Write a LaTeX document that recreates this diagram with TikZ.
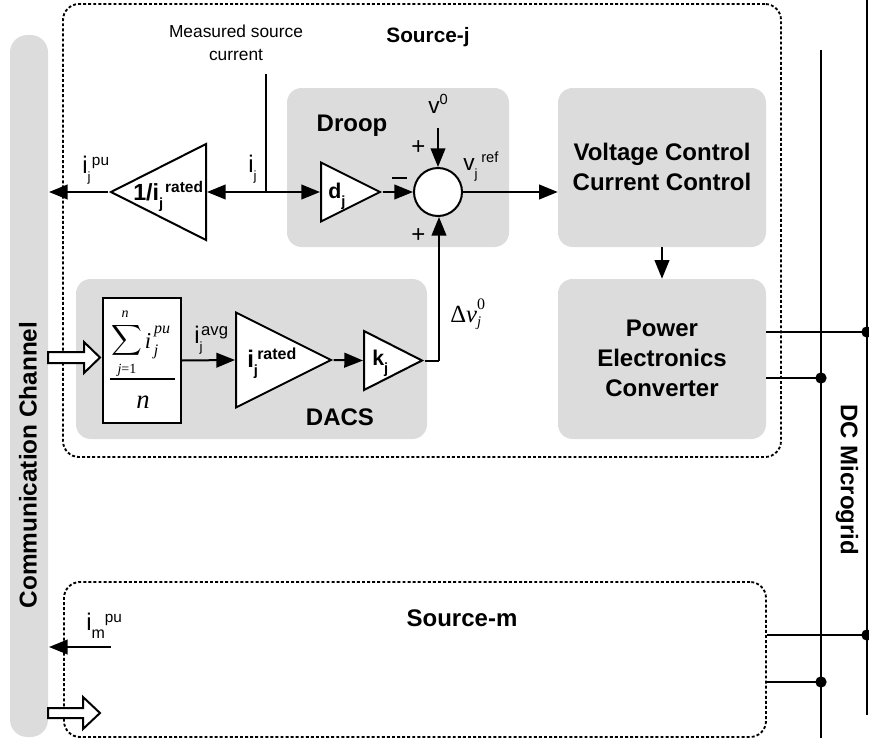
\documentclass[tikz,border=0pt]{standalone}
\usepackage{fontspec}
\setmainfont{Liberation Sans}
\newfontfamily\tms{Liberation Serif}
\usetikzlibrary{arrows.meta,shapes.geometric}
\def\px{0.75pt}
\newcommand\fs[1]{\fontsize{#1}{#1}\selectfont}
% base, sub, sup, sub size, sup size, gap between base and sup
\newcommand\iss[6]{#1\rlap{\raisebox{-6.5pt}{\fs{#4}#2}}\hspace{#6}\raisebox{6pt}{\fs{#5}#3}}
\tikzset{
  x=\px,y=-\px,
  wire/.style={line width=1.5pt},
  arr/.style={line width=1.5pt,-{Triangle[length=14pt,width=11pt]}},
  darr/.style={line width=1.5pt,{Triangle[length=14pt,width=11pt]}-{Triangle[length=14pt,width=11pt]}},
  grey/.style={rectangle,rounded corners=11pt,fill=boxgrey,draw=none,inner sep=0pt},
  dashbox/.style={rectangle,rounded corners=12pt,draw=black,line width=1.4pt,dash pattern=on 2.2pt off 1.6pt,inner sep=0pt},
  tri/.style={isosceles triangle,isosceles triangle stretches,draw=black,fill=white,line width=1.5pt,inner sep=0pt,line join=miter},
  hollow/.style={draw=black,fill=white,line width=1.5pt,line join=miter},
  txt/.style={inner sep=0pt,font=\fs{13}},
  lab/.style={inner sep=0pt,anchor=base west,font=\fs{18}},
  blab/.style={inner sep=0pt,anchor=base west,font=\fs{18}\bfseries},
  btxt/.style={inner sep=0pt,font=\fs{18}\bfseries,align=center},
  dot/.style={circle,fill=black,inner sep=0pt,minimum size=8.5pt},
}
\definecolor{boxgrey}{HTML}{DCDCDC}
\begin{document}
\begin{tikzpicture}
\useasboundingbox (0,0) rectangle (869,743);
% backgrounds
\node[grey,rounded corners=13pt,minimum width=38*\px,minimum height=702*\px] (comm) at (29,386) {};
\node[dashbox,minimum width=718*\px,minimum height=453*\px] (srcj) at (422,230.5) {};
\node[dashbox,minimum width=702*\px,minimum height=155*\px] (srcm) at (415,659.5) {};
\node[grey,minimum width=222*\px,minimum height=159*\px] (droop) at (398,167.5) {};
\node[grey,minimum width=208*\px,minimum height=159*\px] (vc) at (662,167.5) {};
\node[grey,minimum width=208*\px,minimum height=160*\px] (pe) at (662,359) {};
\node[grey,minimum width=351*\px,minimum height=160*\px] (dacs) at (251.5,359) {};
% blocks
\node[tri,shape border rotate=180,anchor=lower side,minimum width=96*\px,minimum height=95*\px] (t1) at (207,192) {};
\node[tri,anchor=lower side,minimum width=59*\px,minimum height=59*\px] (td) at (320,192) {};
\node[tri,anchor=lower side,minimum width=95*\px,minimum height=95*\px] (tr) at (235,360) {};
\node[tri,anchor=lower side,minimum width=59*\px,minimum height=58*\px] (tk) at (363,360.5) {};
\node[circle,draw=black,fill=white,line width=1.5pt,minimum size=48*\px,inner sep=0pt] (sum) at (438,192) {};
\node[rectangle,draw=black,fill=white,line width=1.5pt,minimum width=78*\px,minimum height=125*\px,inner sep=0pt] (avg) at (142,360.5) {};
% free ends
\coordinate (ileft) at (49,192);
\coordinate (jn) at (266,191.5);
\coordinate (meas) at (266,74);
\coordinate (v0top) at (438,128);
\coordinate (kcorner) at (439,360.5);
\coordinate (busa1) at (867,332);
\coordinate (busb1) at (821,378);
\coordinate (busa2) at (867,635);
\coordinate (busb2) at (821,682);
\coordinate (mleft) at (49,647);
\coordinate (mright) at (111,647);
\coordinate (busbT) at (821,50);
\coordinate (busbB) at (821,738);
\coordinate (busaT) at (867,0);
\coordinate (busaB) at (867,715);
% connectors
\draw[arr] (t1.apex) -- (ileft);
\draw[darr] (t1.lower side) -- (td.lower side);
\draw[wire] (meas) -- (jn);
\draw[arr] (td.apex) -- (sum.west);
\draw[arr] (v0top) -- (sum.north);
\draw[arr] (sum.east) -- (vc.west |- sum.east);
\draw[arr] (vc.south) -- (pe.north);
\draw[arr] (avg.east) -- (tr.lower side);
\draw[arr] (tr.apex) -- (tk.lower side);
\draw[wire] (tk.apex) -- (kcorner);
\draw[arr] (kcorner) -- (kcorner |- sum.south);
\draw[arr] (mright) -- (mleft);
\draw[wire] (busbT) -- (busbB);
\draw[wire] (busaT) -- (busaB);
\draw[wire] (pe.east |- busa1) -- (busa1);
\draw[wire] (pe.east |- busb1) -- (busb1);
\draw[wire] (srcm.east |- busa2) -- (busa2);
\draw[wire] (srcm.east |- busb2) -- (busb2);
\node[dot] (d1) at (busa1) {};
\node[dot] (d2) at (busb1) {};
\node[dot] (d3) at (busa2) {};
\node[dot] (d4) at (busb2) {};
% hollow arrows
\draw[hollow] (48,352) -- (84,352) -- (84,342) -- (100,357.5) -- (84,373) -- (84,363) -- (48,363) -- cycle;
\draw[hollow] (48,708) -- (83,708) -- (83,697) -- (100,713) -- (83,729) -- (83,718) -- (48,718) -- cycle;
% text
\node[btxt,font=\fs{18.25}\bfseries,rotate=90] (commT) at (28,465) {Communication Channel};
\node[btxt,rotate=-90] (dcT) at (847,480) {DC Microgrid};
\node[inner sep=0pt,font=\fs{15.6}\bfseries] (srcjT) at (428,37) {Source-j};
\node[btxt] (srcmT) at (462,618) {Source-m};
\node[txt,align=center] (measT) at (236,43) {Measured source\\[4pt]current};
\node[btxt] (droopT) at (352,126) {Droop};
\node[btxt] (dacsT) at (340,417) {DACS};
\node[btxt,align=center] (vcT) at (662,167) {Voltage Control\\[4.5pt]Current Control};
\node[btxt,align=center] (peT) at (662,358.5) {Power\\[4.5pt]Electronics\\[4.5pt]Converter};
\node[lab] (ipu) at (82,173) {\iss{i}{j}{pu}{10}{11.5}{3.3pt}};
\node[lab] (ij) at (248,172) {\iss{i}{j}{}{10}{11.5}{0pt}};
\node[lab] (imT) at (86,630) {\iss{i}{m}{pu}{12}{11.5}{10pt}};
\node[blab,font=\fs{17.5}\bfseries] (t1T) at (133,200) {1/\iss{i}{j}{\fs{11.6}\bfseries rated}{11}{11.6}{4.5pt}};
\node[blab,font=\fs{16}\bfseries] (tdT) at (328,198) {\iss{d}{j}{}{11}{11}{0pt}};
\node[blab,font=\fs{16}\bfseries] (tkT) at (372,365) {\iss{k}{j}{}{11}{11}{0pt}};
\node[blab] (trT) at (247,367) {\iss{i}{j}{\fs{12}\bfseries rated}{11}{12}{2.5pt}};
\node[lab] (iavg) at (194,343) {\iss{i}{j}{avg}{10}{12.5}{1.2pt}};
\node[lab,font=\fs{17}] (v0T) at (428,113) {v\raisebox{6.5pt}{\fs{11}0}};
\node[lab,font=\fs{17}] (vref) at (463,170) {\iss{v}{j}{ref}{10}{11}{5pt}};
\node[inner sep=0pt,font=\fs{18}] (p1) at (418.5,148) {+};
\node[inner sep=0pt,font=\fs{18}] (p2) at (418.5,236) {+};
\draw[line width=1pt] (392,178) -- (407,178);
\node[inner sep=0pt,anchor=base west,font=\tms\fs{18.5}] (dv) at (450,322) {Δ\textit{v}\rlap{\raisebox{9.5pt}{\fs{12}0}}\raisebox{-3pt}{\fs{11}\textit{j}}};
% formula
\node[inner sep=0pt] (sigma) at (126.5,340) {\scalebox{1.6}{$\displaystyle\sum$}};
\node[inner sep=0pt,font=\tms\itshape\fs{10.5}] (sn) at (125,314) {n};
\node[inner sep=0pt,font=\tms\fs{10.5}] (sj) at (127,370) {\textit{j}=1};
\node[inner sep=0pt,font=\tms\itshape\fs{17}] (si) at (148,341) {i};
\node[inner sep=0pt,font=\tms\itshape\fs{12}] (spu) at (162,331) {pu};
\node[inner sep=0pt,font=\tms\itshape\fs{12}] (ssj) at (156,352) {j};
\draw[line width=.8pt] (110,379) -- (175,379);
\node[inner sep=0pt,font=\tms\itshape\fs{20}] (sdn) at (143,402) {n};
\end{tikzpicture}
\end{document}
